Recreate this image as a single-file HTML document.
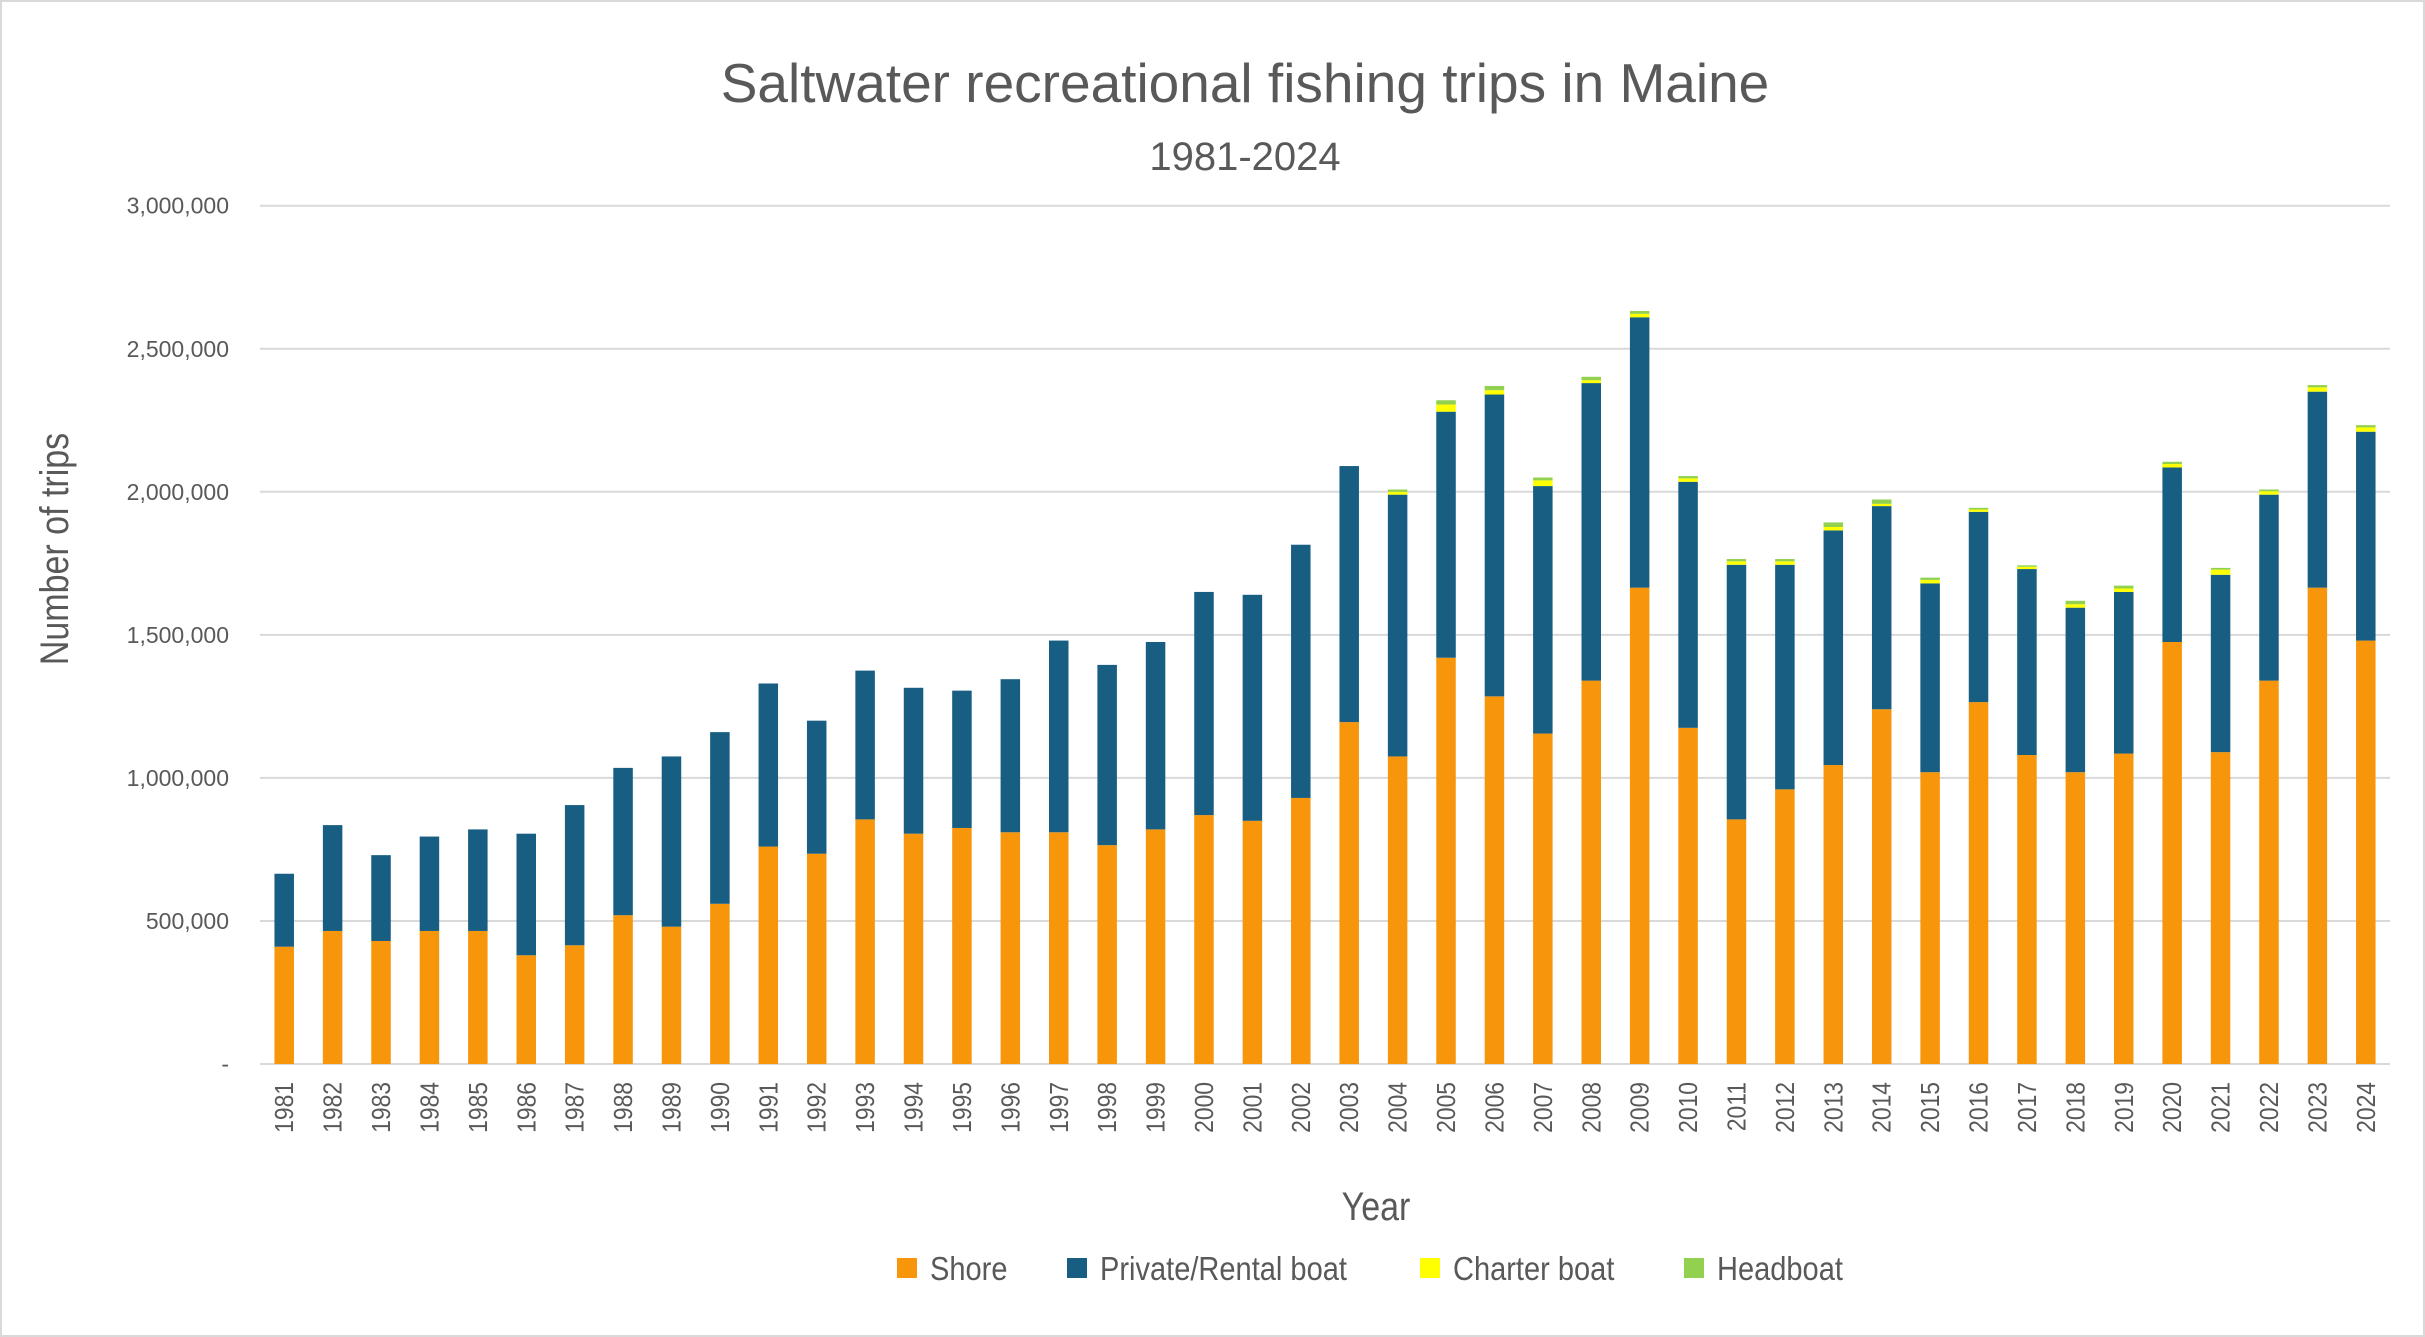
<!DOCTYPE html>
<html><head><meta charset="utf-8"><style>
html,body{margin:0;padding:0;background:#fff}
svg{display:block}
text{font-family:"Liberation Sans",sans-serif;fill:#595959}
</style></head><body>
<svg id="chart" width="2425" height="1337" viewBox="0 0 2425 1337" xmlns="http://www.w3.org/2000/svg">
<rect x="1" y="1" width="2423" height="1335" fill="#fff" stroke="#d9d9d9" stroke-width="2"/>
<text x="1245" y="102" text-anchor="middle" font-size="55">Saltwater recreational fishing trips in Maine</text>
<text x="1245" y="170" text-anchor="middle" font-size="40">1981-2024</text>
<g id="grid"></g><g id="bars"></g><g id="xlabels"></g><g id="ylabels"></g>
<text transform="translate(68,549) rotate(-90) scale(0.85,1)" text-anchor="middle" font-size="40">Number of trips</text>
<text transform="translate(1376,1220) scale(0.85,1)" text-anchor="middle" font-size="40">Year</text>
<g id="legend">
<rect x="897" y="1258" width="20" height="20" fill="#F7960B"/>
<text transform="translate(930,1280) scale(0.88,1)" font-size="33">Shore</text>
<rect x="1067" y="1258" width="20" height="20" fill="#175E82"/>
<text transform="translate(1100,1280) scale(0.88,1)" font-size="33">Private/Rental boat</text>
<rect x="1420" y="1258" width="20" height="20" fill="#FFFF00"/>
<text transform="translate(1453,1280) scale(0.88,1)" font-size="33">Charter boat</text>
<rect x="1684" y="1258" width="20" height="20" fill="#92D050"/>
<text transform="translate(1717,1280) scale(0.88,1)" font-size="33">Headboat</text>
</g>
</svg>
<script>
const years = [1981,1982,1983,1984,1985,1986,1987,1988,1989,1990,1991,1992,1993,1994,1995,1996,1997,1998,1999,2000,2001,2002,2003,2004,2005,2006,2007,2008,2009,2010,2011,2012,2013,2014,2015,2016,2017,2018,2019,2020,2021,2022,2023,2024];
const shore = [410000,465000,430000,465000,465000,380000,415000,520000,480000,560000,760000,735000,855000,805000,825000,810000,810000,765000,820000,870000,850000,930000,1195000,1075000,1420000,1285000,1155000,1340000,1665000,1175000,855000,960000,1045000,1240000,1020000,1265000,1080000,1020000,1085000,1475000,1090000,1340000,1665000,1480000];
const privateBoat = [255000,370000,300000,330000,355000,425000,490000,515000,595000,600000,570000,465000,520000,510000,480000,535000,670000,630000,655000,780000,790000,885000,895000,915000,860000,1055000,865000,1040000,945000,860000,890000,785000,820000,710000,660000,665000,650000,575000,565000,610000,620000,650000,685000,730000];
const charter = [0,0,0,0,0,0,0,0,0,0,0,0,0,0,0,0,0,0,0,0,0,0,0,10000,25000,15000,20000,10000,12000,12000,12000,12000,12000,8000,12000,8000,8000,12000,12000,12000,18000,12000,15000,15000];
const headboat = [0,0,0,0,0,0,0,0,0,0,0,0,0,0,0,0,0,0,0,0,0,0,0,8000,15000,15000,10000,12000,10000,8000,8000,8000,16000,15000,8000,6000,5000,12000,10000,8000,6000,6000,8000,8000];
const yTicks = [0,500000,1000000,1500000,2000000,2500000,3000000];
const yTickLabels = ["-","500,000","1,000,000","1,500,000","2,000,000","2,500,000","3,000,000"];

const NS="http://www.w3.org/2000/svg";
const plotL=260, plotR=2390, y0=1064, yTop=205.7, yMax=3000000;
const band=(plotR-plotL)/years.length, barW=19.5;
function yS(v){return y0-(v/yMax)*(y0-yTop);}
function xC(i){return plotL+band*(i+0.5);}
function mk(tag,attrs,parent){const e=document.createElementNS(NS,tag);for(const k in attrs)e.setAttribute(k,attrs[k]);parent.appendChild(e);return e;}
const grid=document.getElementById('grid'),bars=document.getElementById('bars'),xl=document.getElementById('xlabels'),yl=document.getElementById('ylabels');
yTicks.forEach((t,i)=>{
  const l=mk('line',{x1:plotL,x2:plotR,y1:yS(t),y2:yS(t),stroke:'#d9d9d9','stroke-width':2},grid);
  
  
  const tx=mk('text',{x:229,y:yS(t)+8,'text-anchor':'end','font-size':23},yl);
  tx.textContent=yTickLabels[i];
  
  
});
const series=[[shore,'#F7960B','shore'],[privateBoat,'#175E82','private'],[charter,'#FFFF00','charter'],[headboat,'#92D050','headboat']];
years.forEach((yr,i)=>{
  let cum=0;
  series.forEach(([arr,col,nm])=>{
    const v=arr[i]; if(!v){return;}
    const top=yS(cum+v), bot=yS(cum);
    const r=mk('rect',{x:xC(i)-barW/2,y:top,width:barW,height:bot-top,fill:col},bars);
    
    
    cum+=v;
  });
  const t=mk('text',{transform:`translate(${xC(i)+9},1082) rotate(-90) scale(0.88,1)`,'text-anchor':'end','font-size':26},xl);
  t.textContent=yr;
  
  
});
</script>
</body></html>
